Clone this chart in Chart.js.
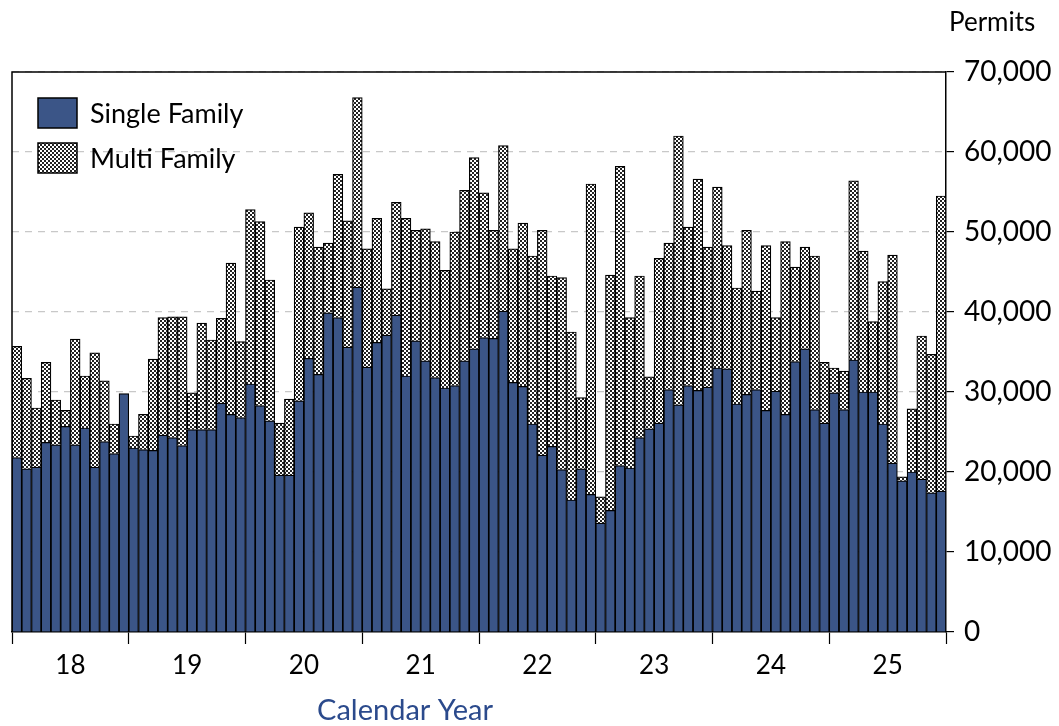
<!DOCTYPE html>
<html>
<head>
<meta charset="utf-8">
<script src="https://cdn.jsdelivr.net/npm/chart.js@4.4.1/dist/chart.umd.min.js"></script>
<style>
    html, body { margin: 0; padding: 0; background: #fff; }
    #wrap { width: 1059px; height: 726px; position: relative; }
</style>
</head>
<body>
<div id="wrap"><canvas id="chart" width="1059" height="726"></canvas></div>
<script>
const years = ['18', '19', '20', '21', '22', '23', '24', '25'];
const monthNames = ['Jan', 'Feb', 'Mar', 'Apr', 'May', 'Jun', 'Jul', 'Aug', 'Sep', 'Oct', 'Nov', 'Dec'];

// monthly permits, Jan 2018 .. Dec 2025
const singleFamily = [
    21800, 20400, 20600, 23700, 23400, 25700, 23400, 25500, 20600, 23800, 22300, 29800,
    23000, 22800, 22700, 24600, 24300, 23300, 25300, 25300, 25300, 28600, 27200, 26800,
    31000, 28300, 26400, 19600, 19600, 28900, 34200, 32200, 39900, 39300, 35600, 43100,
    33100, 36200, 37100, 39600, 32000, 36400, 33900, 31800, 30500, 30800, 33900, 35400,
    36800, 36700, 40100, 31200, 30700, 26000, 22100, 23200, 20300, 16500, 20400, 17200,
    13600, 15200, 20800, 20500, 24300, 25400, 26100, 30300, 28400, 30800, 30200, 30600,
    33000, 32900, 28500, 29700, 30300, 27700, 30100, 27200, 33800, 35400, 27800, 26100,
    29900, 27800, 34000, 30000, 30000, 26000, 21100, 18900, 20000, 19100, 17400, 17600
];
const multiFamily = [
    13900, 11300, 7400, 10000, 5600, 2000, 13200, 6500, 14300, 7600, 3700, 0,
    1500, 4400, 11400, 14700, 15100, 16100, 4600, 13300, 11200, 10600, 18900, 9500,
    21800, 23000, 17600, 6500, 9500, 21700, 18200, 15900, 8700, 17900, 15800, 23700,
    14800, 15500, 5800, 14100, 19700, 13800, 16500, 17000, 14700, 19200, 21300, 23900,
    18100, 13500, 20700, 16700, 20400, 21000, 28100, 21300, 24000, 21000, 8900, 38800,
    3300, 29400, 37400, 18800, 20200, 6500, 20600, 18300, 33600, 19800, 26400, 17500,
    22600, 15400, 14500, 20500, 12300, 20600, 9200, 21600, 11800, 12700, 19200, 7600,
    3100, 4800, 22400, 17600, 8800, 17800, 26000, 500, 7900, 17900, 17300, 36900
];
const yTicks = [0, 10000, 20000, 30000, 40000, 50000, 60000, 70000];

const labels = years.flatMap(y => monthNames.map(m => m + ' ' + y));
const fontFamily = 'Lato, "Open Sans", sans-serif';
const navy = '#3b5587';

function makeHatch(ctx) {
    const tile = document.createElement('canvas');
    tile.width = 4;
    tile.height = 4;
    const g = tile.getContext('2d');
    g.fillStyle = '#ffffff';
    g.fillRect(0, 0, 4, 4);
    g.fillStyle = '#222222';
    for (let y = 0; y < 4; y++) {
        for (let x = 0; x < 4; x++) {
            if ((Math.floor(x / 2) + Math.floor(y / 2)) % 2 === 0) g.fillRect(x, y, 1, 1);
        }
    }
    return ctx.createPattern(tile, 'repeat');
}

const ctx = document.getElementById('chart').getContext('2d');
const hatch = makeHatch(ctx);

// frame, legend and free text
const decorations = {
    id: 'decorations',
    afterDraw(chart) {
        const c = chart.ctx;
        const area = chart.chartArea;
        c.save();
        c.strokeStyle = '#000';
        c.lineWidth = 1.5;
        c.beginPath();
        c.moveTo(area.left, area.bottom);
        c.lineTo(area.left, area.top);
        c.lineTo(area.right, area.top);
        c.stroke();

        // legend
        const items = chart.data.datasets;
        items.forEach((ds, i) => {
            const y = 98 + i * 45;
            c.fillStyle = ds.backgroundColor;
            c.fillRect(38, y, 39, 30);
            c.lineWidth = 1.5;
            c.strokeStyle = '#000';
            c.strokeRect(38, y, 39, 30);
            c.fillStyle = '#000';
            c.font = '27px ' + fontFamily;
            c.textBaseline = 'middle';
            c.textAlign = 'left';
            c.fillText(ds.label, 90, y + 16);
        });

        c.font = '26px ' + fontFamily;
        c.fillStyle = '#000';
        c.textAlign = 'left';
        c.fillText('Permits', 949, 23);

        c.font = '29px ' + fontFamily;
        c.fillStyle = '#2b4a8c';
        c.textAlign = 'center';
        c.fillText('Calendar Year', 405, 711);
        c.restore();
    }
};

new Chart(ctx, {
    type: 'bar',
    data: {
        labels: labels,
        datasets: [
            {
                label: 'Single Family',
                data: singleFamily,
                backgroundColor: navy,
                borderColor: '#000',
                borderWidth: 1.2,
                borderSkipped: 'start'
            },
            {
                label: 'Multi Family',
                data: multiFamily,
                backgroundColor: hatch,
                borderColor: '#000',
                borderWidth: 1.2,
                borderSkipped: 'start'
            }
        ]
    },
    options: {
        responsive: false,
        animation: false,
        layout: { padding: { left: 12, top: 72, right: 0, bottom: 0 } },
        datasets: { bar: { barPercentage: 1, categoryPercentage: 1 } },
        plugins: {
            legend: { display: false },
            tooltip: { enabled: false }
        },
        scales: {
            x: {
                stacked: true,
                display: false
            },
            years: {
                type: 'linear',
                position: 'bottom',
                offset: false,
                min: 0,
                max: 96,
                afterBuildTicks: scale => {
                    const t = [];
                    for (let v = 0; v <= 96; v += 6) t.push({ value: v });
                    scale.ticks = t;
                },
                afterFit: scale => { scale.height = 94; },
                ticks: {
                    autoSkip: false,
                    maxRotation: 0,
                    padding: 6,
                    color: '#000',
                    font: { family: fontFamily, size: 26 },
                    callback: v => (v % 12 === 6 ? years[(v - 6) / 12] : '')
                },
                grid: {
                    offset: false,
                    drawOnChartArea: false,
                    drawTicks: true,
                    tickLength: 12,
                    tickWidth: 1.2,
                    tickColor: c => (c.tick && c.tick.value % 12 === 0 ? '#000' : 'rgba(0,0,0,0)')
                },
                border: { display: true, color: '#000', width: 1.5 }
            },
            y: {
                stacked: true,
                position: 'right',
                min: 0,
                max: 70000,
                afterBuildTicks: scale => {
                    scale.ticks = yTicks.map(v => ({ value: v }));
                },
                afterFit: scale => { scale.width = 113; },
                ticks: {
                    padding: 10,
                    color: '#000',
                    font: { family: fontFamily, size: 28 },
                    callback: v => v.toLocaleString('en-US')
                },
                grid: {
                    color: c => (c.tick && c.tick.value === 0 ? 'rgba(0,0,0,0)' : '#c8c8c8'),
                    lineWidth: 1.2,
                    tickColor: '#000',
                    tickLength: 8
                },
                border: { display: true, color: '#000', width: 1.5, dash: [7, 6] }
            }
        }
    },
    plugins: [decorations]
});
</script>
</body>
</html>
